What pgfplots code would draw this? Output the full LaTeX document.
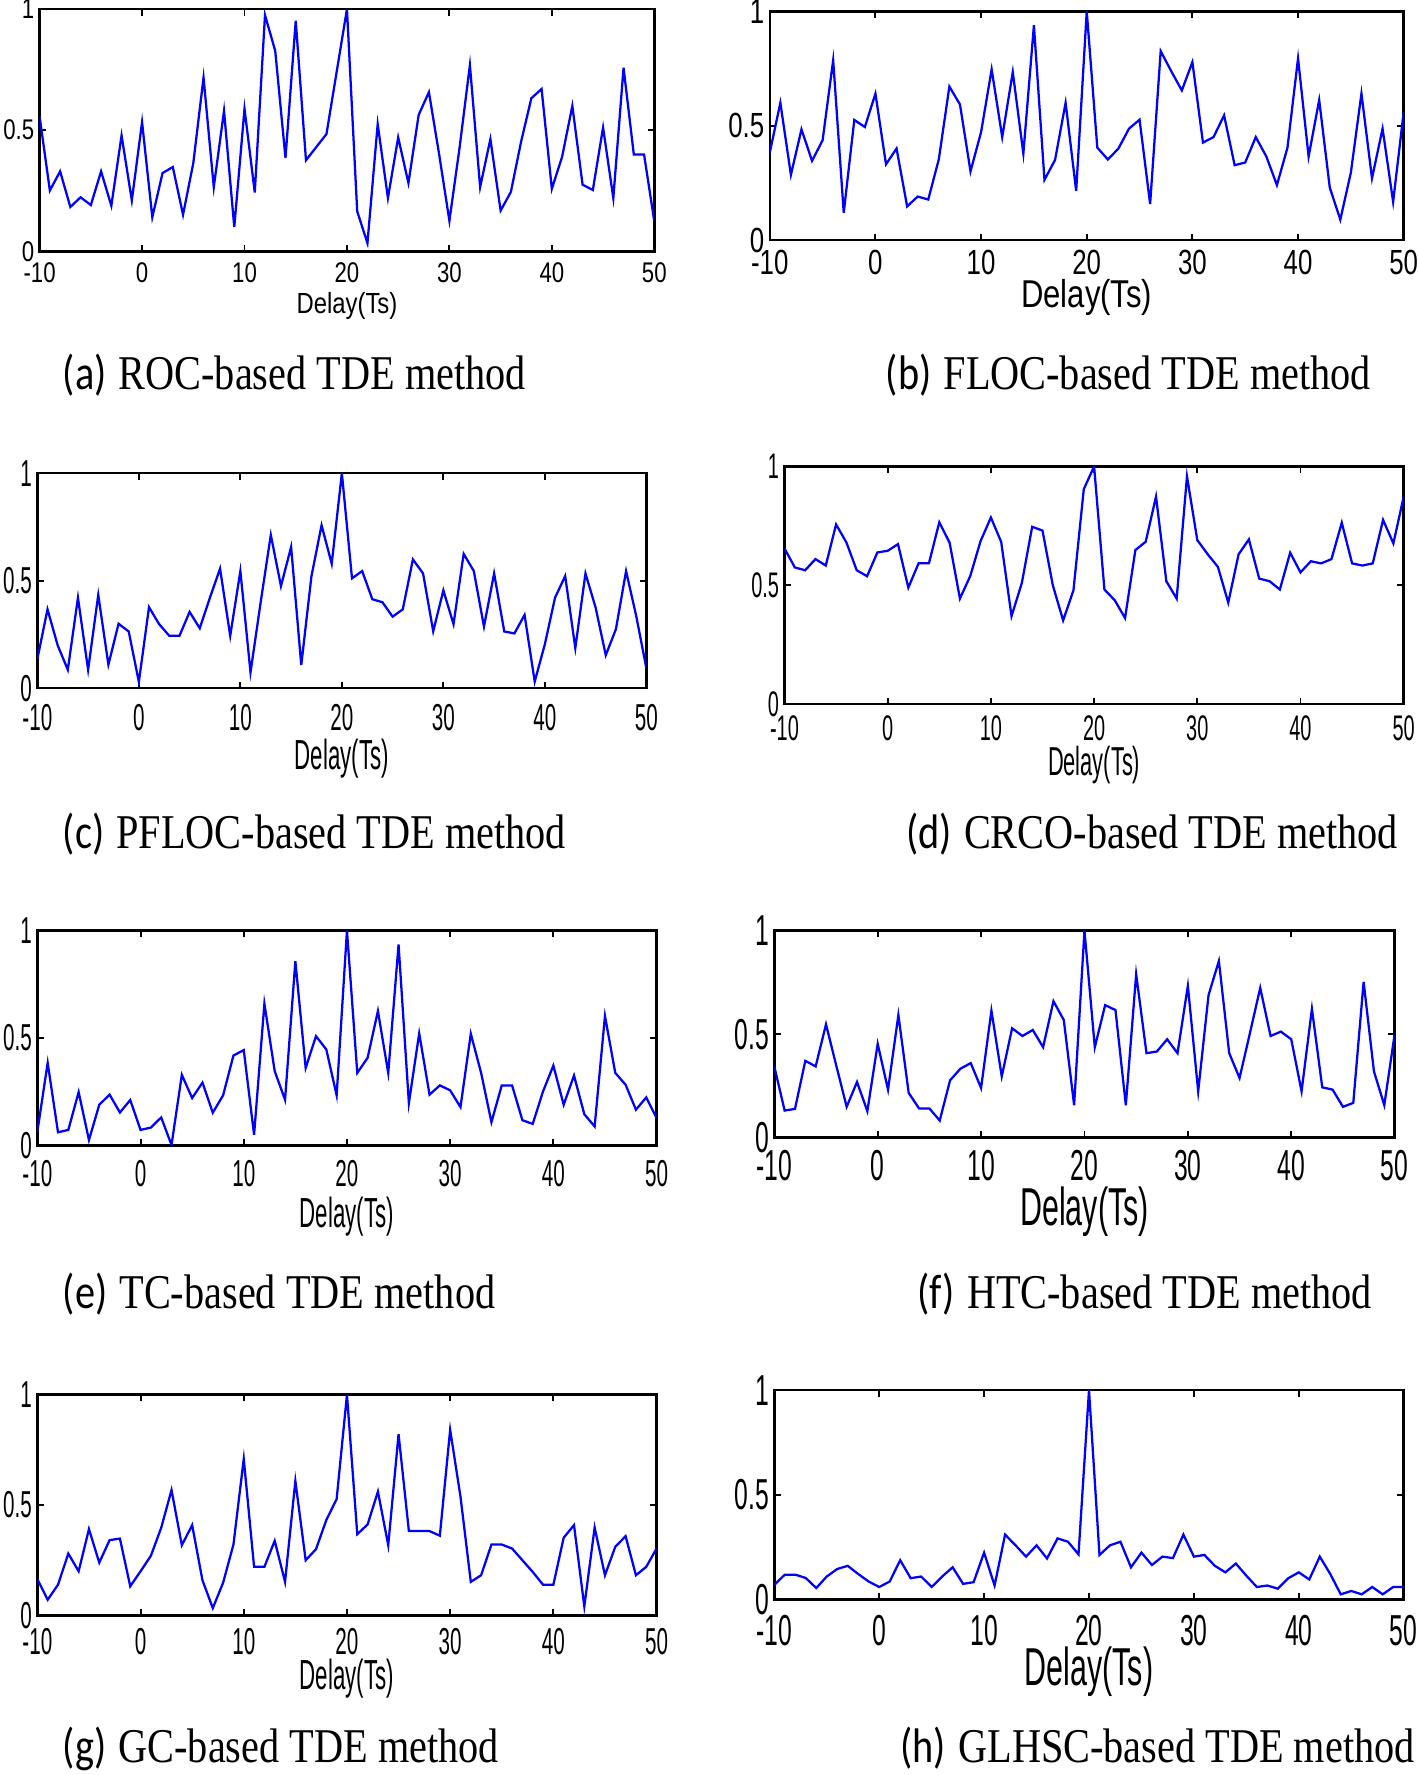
\documentclass[border=0pt]{standalone}
\usepackage{pgfplots}
\pgfplotsset{compat=1.18}
\usepackage{graphicx}
\usepackage{fontspec}
\newfontfamily\arialf{Liberation Sans}
\newfontfamily\timesf{Liberation Serif}
\newfontfamily\calf{Carlito}
\newcommand{\sq}[3]{\scalebox{#1}[1]{\fontsize{#2}{#2}\selectfont\arialf #3}}
\newcommand{\capt}[2]{\scalebox{0.83}[1]{\fontsize{15}{15}\selectfont{\calf #1} \timesf #2}}
\pgfplotsset{
  panel/.style={scale only axis, anchor=south west,
    xmin=-10, xmax=50, ymin=0, ymax=1,
    xtick={-10,0,10,20,30,40,50}, ytick={0,0.5,1},
    tick align=inside, major tick length=2pt,
    axis line style={line width=0.75pt},
    every tick/.style={black, line width=0.6pt},
    yticklabel style={inner sep=1.5pt}},
  tk/.style n args={6}{
    xticklabel={\sq{#1}{#2}{\pgfmathprintnumber[assume math mode=true]{\tick}}},
    yticklabel={\sq{#1}{#2}{\pgfmathprintnumber[assume math mode=true]{\tick}}},
    xticklabel style={anchor=center, yshift=-#5pt},
    xlabel={\sq{#3}{#4}{Delay(Ts)}},
    xlabel style={at={(axis description cs:0.5,0)}, anchor=center, yshift=-#6pt}},
  ser/.style={blue, line width=0.7pt, mark=none}
}
\begin{document}
\begin{tikzpicture}
\path[use as bounding box] (0,0) rectangle (438.2pt,-548.8pt);
% (a)
\begin{axis}[panel, at={(12.25pt,-77.7pt)}, width=190.05pt, height=74.9pt, tk={0.78}{8.8}{0.82}{9}{6.65}{16.8}]
\addplot[ser] coordinates {(-10,0.556)(-9,0.251)(-8,0.33)(-7,0.183)(-6,0.223)(-5,0.191)(-4,0.33)(-3,0.188)(-2,0.478)(-1,0.21)(0,0.533)(1,0.141)(2,0.323)(3,0.348)(4,0.151)(5,0.364)(6,0.717)(7,0.265)(8,0.58)(9,0.10)(10,0.588)(11,0.243)(12,0.975)(13,0.827)(14,0.385)(15,0.952)(16,0.376)(17,0.43)(18,0.484)(19,0.742)(20,1.0)(21,0.165)(22,0.034)(23,0.525)(24,0.22)(25,0.47)(26,0.282)(27,0.563)(28,0.657)(29,0.40)(30,0.126)(31,0.43)(32,0.769)(33,0.265)(34,0.463)(35,0.168)(36,0.245)(37,0.453)(38,0.632)(39,0.67)(40,0.258)(41,0.39)(42,0.60)(43,0.275)(44,0.253)(45,0.511)(46,0.22)(47,0.758)(48,0.40)(49,0.40)(50,0.124)};
\end{axis}
% (b)
\begin{axis}[panel, at={(238pt,-74.2pt)}, width=196pt, height=70.7pt, tk={0.74}{10.8}{0.8}{12}{7}{17.9}]
\addplot[ser] coordinates {(-10,0.382)(-9,0.60)(-8,0.285)(-7,0.484)(-6,0.346)(-5,0.436)(-4,0.786)(-3,0.119)(-2,0.525)(-1,0.494)(0,0.64)(1,0.331)(2,0.40)(3,0.147)(4,0.19)(5,0.177)(6,0.353)(7,0.671)(8,0.593)(9,0.30)(10,0.472)(11,0.746)(12,0.45)(13,0.734)(14,0.378)(15,0.939)(16,0.263)(17,0.35)(18,0.60)(19,0.215)(20,1.0)(21,0.404)(22,0.352)(23,0.40)(24,0.487)(25,0.526)(26,0.157)(27,0.826)(28,0.738)(29,0.654)(30,0.778)(31,0.426)(32,0.45)(33,0.545)(34,0.327)(35,0.339)(36,0.45)(37,0.365)(38,0.24)(39,0.404)(40,0.794)(41,0.365)(42,0.612)(43,0.23)(44,0.089)(45,0.295)(46,0.64)(47,0.27)(48,0.487)(49,0.167)(50,0.56)};
\end{axis}
% (c)
\begin{axis}[panel, at={(11.55pt,-212.8pt)}, width=188.3pt, height=66.5pt, tk={0.55}{11.6}{0.53}{13}{9.1}{21.7}]
\addplot[ser] coordinates {(-10,0.136)(-9,0.367)(-8,0.20)(-7,0.086)(-6,0.421)(-5,0.086)(-4,0.434)(-3,0.11)(-2,0.30)(-1,0.264)(0,0.03)(1,0.377)(2,0.298)(3,0.244)(4,0.244)(5,0.355)(6,0.279)(7,0.421)(8,0.556)(9,0.244)(10,0.545)(11,0.074)(12,0.40)(13,0.713)(14,0.475)(15,0.657)(16,0.108)(17,0.52)(18,0.758)(19,0.579)(20,1.0)(21,0.511)(22,0.545)(23,0.414)(24,0.40)(25,0.333)(26,0.367)(27,0.599)(28,0.534)(29,0.265)(30,0.455)(31,0.298)(32,0.625)(33,0.545)(34,0.287)(35,0.534)(36,0.264)(37,0.255)(38,0.341)(39,0.031)(40,0.205)(41,0.421)(42,0.522)(43,0.187)(44,0.534)(45,0.375)(46,0.154)(47,0.275)(48,0.545)(49,0.336)(50,0.093)};
\end{axis}
% (d)
\begin{axis}[panel, at={(242.55pt,-217.7pt)}, width=191.45pt, height=73.5pt, tk={0.56}{11}{0.54}{12.5}{7.35}{18.9}]
\addplot[ser] coordinates {(-10,0.655)(-9,0.575)(-8,0.563)(-7,0.61)(-6,0.583)(-5,0.756)(-4,0.68)(-3,0.563)(-2,0.538)(-1,0.638)(0,0.645)(1,0.673)(2,0.49)(3,0.593)(4,0.593)(5,0.765)(6,0.679)(7,0.444)(8,0.539)(9,0.686)(10,0.785)(11,0.682)(12,0.37)(13,0.51)(14,0.746)(15,0.73)(16,0.50)(17,0.352)(18,0.479)(19,0.904)(20,1.0)(21,0.482)(22,0.437)(23,0.362)(24,0.648)(25,0.683)(26,0.873)(27,0.517)(28,0.444)(29,0.958)(30,0.69)(31,0.631)(32,0.577)(33,0.427)(34,0.63)(35,0.693)(36,0.528)(37,0.517)(38,0.482)(39,0.637)(40,0.554)(41,0.601)(42,0.592)(43,0.61)(44,0.763)(45,0.592)(46,0.583)(47,0.592)(48,0.775)(49,0.676)(50,0.873)};
\end{axis}
% (e)
\begin{axis}[panel, at={(11.55pt,-354.2pt)}, width=191.45pt, height=66.5pt, tk={0.55}{11.6}{0.53}{13}{8.75}{22}]
\addplot[ser] coordinates {(-10,0.065)(-9,0.385)(-8,0.062)(-7,0.073)(-6,0.249)(-5,0.026)(-4,0.19)(-3,0.237)(-2,0.154)(-1,0.212)(0,0.073)(1,0.084)(2,0.131)(3,0.003)(4,0.329)(5,0.221)(6,0.293)(7,0.153)(8,0.234)(9,0.419)(10,0.444)(11,0.05)(12,0.66)(13,0.346)(14,0.213)(15,0.857)(16,0.361)(17,0.509)(18,0.447)(19,0.234)(20,1.0)(21,0.338)(22,0.408)(23,0.626)(24,0.338)(25,0.935)(26,0.198)(27,0.522)(28,0.237)(29,0.28)(30,0.257)(31,0.179)(32,0.52)(33,0.338)(34,0.109)(35,0.28)(36,0.28)(37,0.118)(38,0.101)(39,0.252)(40,0.372)(41,0.19)(42,0.326)(43,0.146)(44,0.089)(45,0.603)(46,0.338)(47,0.283)(48,0.167)(49,0.224)(50,0.128)};
\end{axis}
% (f)
\begin{axis}[panel, at={(239.4pt,-351.75pt)}, width=191.8pt, height=64.05pt, tk={0.57}{13.4}{0.57}{16.5}{8.75}{22.75}]
\addplot[ser] coordinates {(-10,0.344)(-9,0.131)(-8,0.139)(-7,0.371)(-6,0.344)(-5,0.547)(-4,0.347)(-3,0.149)(-2,0.269)(-1,0.128)(0,0.453)(1,0.232)(2,0.592)(3,0.216)(4,0.141)(5,0.141)(6,0.083)(7,0.277)(8,0.333)(9,0.36)(10,0.24)(11,0.613)(12,0.296)(13,0.528)(14,0.491)(15,0.52)(16,0.437)(17,0.659)(18,0.568)(19,0.157)(20,1.0)(21,0.437)(22,0.64)(23,0.616)(24,0.157)(25,0.789)(26,0.408)(27,0.416)(28,0.475)(29,0.408)(30,0.733)(31,0.224)(32,0.688)(33,0.853)(34,0.408)(35,0.288)(36,0.504)(37,0.723)(38,0.491)(39,0.512)(40,0.475)(41,0.224)(42,0.622)(43,0.243)(44,0.232)(45,0.149)(46,0.168)(47,0.752)(48,0.32)(49,0.157)(50,0.499)};
\end{axis}
% (g)
\begin{axis}[panel, at={(11.55pt,-499.45pt)}, width=191.45pt, height=68.25pt, tk={0.55}{11.6}{0.53}{13}{8.05}{19.6}]
\addplot[ser] coordinates {(-10,0.164)(-9,0.071)(-8,0.139)(-7,0.28)(-6,0.20)(-5,0.391)(-4,0.239)(-3,0.341)(-2,0.348)(-1,0.132)(0,0.20)(1,0.27)(2,0.397)(3,0.568)(4,0.318)(5,0.409)(6,0.159)(7,0.033)(8,0.148)(9,0.321)(10,0.709)(11,0.22)(12,0.22)(13,0.338)(14,0.152)(15,0.609)(16,0.25)(17,0.30)(18,0.432)(19,0.527)(20,1.0)(21,0.368)(22,0.412)(23,0.561)(24,0.318)(25,0.821)(26,0.382)(27,0.382)(28,0.382)(29,0.361)(30,0.841)(31,0.538)(32,0.152)(33,0.182)(34,0.321)(35,0.321)(36,0.303)(37,0.25)(38,0.197)(39,0.139)(40,0.139)(41,0.352)(42,0.409)(43,0.041)(44,0.398)(45,0.182)(46,0.311)(47,0.359)(48,0.182)(49,0.22)(50,0.303)};
\end{axis}
% (h)
\begin{axis}[panel, at={(239.4pt,-494.55pt)}, width=194.6pt, height=64.75pt, tk={0.57}{13.4}{0.57}{16.5}{9.45}{22.4}]
\addplot[ser] coordinates {(-10,0.07)(-9,0.119)(-8,0.119)(-7,0.103)(-6,0.055)(-5,0.11)(-4,0.146)(-3,0.161)(-2,0.122)(-1,0.086)(0,0.06)(1,0.086)(2,0.188)(3,0.102)(4,0.11)(5,0.06)(6,0.11)(7,0.154)(8,0.075)(9,0.083)(10,0.224)(11,0.067)(12,0.31)(13,0.259)(14,0.205)(15,0.259)(16,0.196)(17,0.292)(18,0.276)(19,0.216)(20,1.0)(21,0.213)(22,0.259)(23,0.276)(24,0.154)(25,0.224)(26,0.165)(27,0.205)(28,0.198)(29,0.31)(30,0.205)(31,0.213)(32,0.161)(33,0.13)(34,0.172)(35,0.114)(36,0.06)(37,0.067)(38,0.052)(39,0.102)(40,0.13)(41,0.096)(42,0.205)(43,0.122)(44,0.025)(45,0.041)(46,0.025)(47,0.06)(48,0.025)(49,0.06)(50,0.06)};
\end{axis}
% captions
\node[anchor=west, inner sep=0pt] at (19.25pt,-115.85pt) {\capt{(a)}{ROC-based TDE method}};
\node[anchor=west, inner sep=0pt] at (273.7pt,-115.85pt) {\capt{(b)}{FLOC-based TDE method}};
\node[anchor=west, inner sep=0pt] at (19.25pt,-257.95pt) {\capt{(c)}{PFLOC-based TDE method}};
\node[anchor=west, inner sep=0pt] at (280pt,-257.95pt) {\capt{(d)}{CRCO-based TDE method}};
\node[anchor=west, inner sep=0pt] at (19.25pt,-400.05pt) {\capt{(e)}{TC-based TDE method}};
\node[anchor=west, inner sep=0pt] at (283.5pt,-400.05pt) {\capt{(f)}{HTC-based TDE method}};
\node[anchor=west, inner sep=0pt] at (19.25pt,-540.6pt) {\capt{(g)}{GC-based TDE method}};
\node[anchor=west, inner sep=0pt] at (278.25pt,-540.6pt) {\capt{(h)}{GLHSC-based TDE method}};
\end{tikzpicture}
\end{document}
